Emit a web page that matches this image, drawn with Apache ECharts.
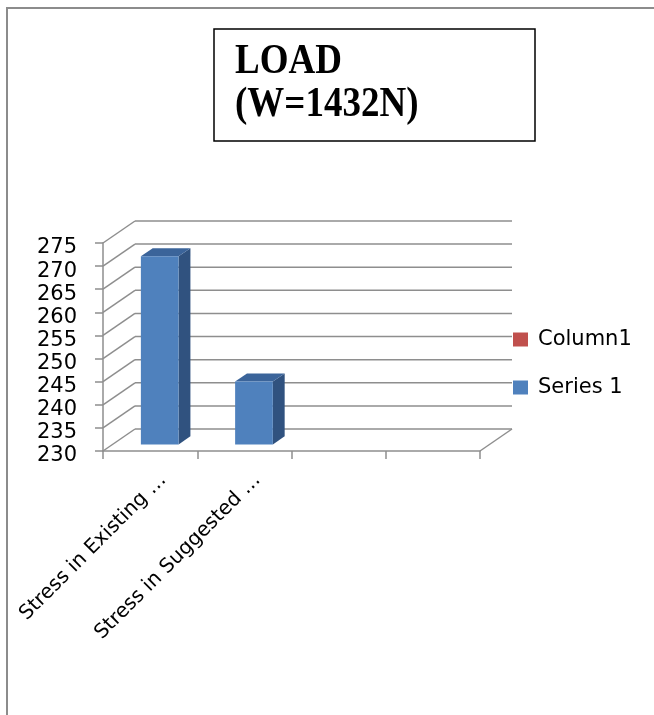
<!DOCTYPE html>
<html>
<head>
<meta charset="utf-8">
<script src="https://cdn.jsdelivr.net/npm/echarts@6/dist/echarts.min.js"></script>
<style>
  html, body { margin: 0; padding: 0; background: #fff; }
  #chart { width: 654px; height: 715px; }
</style>
</head>
<body>
<div id="chart"></div>
<script>
// Chart data
const categories = ['Stress in Existing \u2026', 'Stress in Suggested \u2026', '', ''];
const series1 = [270.7, 243.6];
const column1 = [];
const yTicks = [230, 235, 240, 245, 250, 255, 260, 265, 270, 275];
const titleLines = ['LOAD', '(W=1432N)'];

const Y_MIN = yTicks[0];
const Y_MAX = yTicks[yTicks.length - 1];
const Y_STEP = yTicks[1] - yTicks[0];

// 3D look: depth of the walls in pixels, and where a column sits in that depth
const DX = 32, DY = -22;
const BAR_FRONT = 0.3, BAR_DEPTH = 0.37, BAR_WIDTH = 0.4;
const GRID_COLOR = '#8e8e8e';
const FRONT = '#4F81BD', SIDE = '#30527F', TOP = '#3B649A';
const LABEL_FONT = 'DejaVu Sans';
const LABEL_SIZE = 21;
const CAT_LABEL_SIZE = 20;
const TITLE_FONT = 'bold 37px "Liberation Serif", serif';

const lineStyle = { stroke: GRID_COLOR, lineWidth: 1.5, fill: null };

// Left wall diagonals, back wall lines and the floor edge
function renderWalls(params, api) {
  const v = api.value(1);
  const cs = params.coordSys;
  const y = api.coord([0, v])[1];
  const x0 = cs.x, x1 = cs.x + cs.width;
  const children = [
    { type: 'line', shape: { x1: x0, y1: y, x2: x0 + DX, y2: y + DY }, style: lineStyle },
    { type: 'line', shape: { x1: x0 + DX, y1: y + DY, x2: x1 + DX, y2: y + DY }, style: lineStyle }
  ];
  if (v === Y_MIN) {
    children.push({ type: 'line', shape: { x1: x1, y1: y, x2: x1 + DX, y2: y + DY }, style: lineStyle });
  }
  return { type: 'group', children };
}

// Column drawn as front face, right side and top
function renderColumn(params, api) {
  const idx = api.value(0);
  const v = api.value(1);
  const top = api.coord([idx, v]);
  const base = api.coord([idx, Y_MIN]);
  const bw = api.size([1, 0])[0];
  const w = bw * BAR_WIDTH;
  const xl = top[0] - w / 2 + BAR_FRONT * DX;
  const xr = xl + w;
  const yt = top[1] + BAR_FRONT * DY;
  const yb = base[1] + BAR_FRONT * DY;
  const ddx = BAR_DEPTH * DX, ddy = BAR_DEPTH * DY;
  return {
    type: 'group',
    children: [
      { type: 'polygon', shape: { points: [[xr, yt], [xr + ddx, yt + ddy], [xr + ddx, yb + ddy], [xr, yb]] },
        style: { fill: SIDE } },
      { type: 'polygon', shape: { points: [[xl, yt], [xl + ddx, yt + ddy], [xr + ddx, yt + ddy], [xr, yt]] },
        style: { fill: TOP } },
      { type: 'rect', shape: { x: xl, y: yt, width: w, height: yb - yt },
        style: { fill: FRONT } }
    ]
  };
}

const chart = echarts.init(document.getElementById('chart'), null, { renderer: 'canvas' });

chart.setOption({
  backgroundColor: '#fff',
  animation: false,
  graphic: [
    { type: 'polyline', shape: { points: [[7, 715], [7, 8], [654, 8]] },
      style: { stroke: '#8c8c8c', lineWidth: 2, fill: null }, silent: true },
    // boxed title, set slightly tall
    { type: 'rect', shape: { x: 214, y: 29, width: 321, height: 112 },
      style: { stroke: '#000', lineWidth: 1.5, fill: null }, silent: true },
    { type: 'text', x: 235, y: 62, scaleY: 1.14, silent: true,
      style: { text: titleLines[0], font: TITLE_FONT, fill: '#000', align: 'left', verticalAlign: 'middle' } },
    { type: 'text', x: 235, y: 105, scaleY: 1.14, silent: true,
      style: { text: titleLines[1], font: TITLE_FONT, fill: '#000', align: 'left', verticalAlign: 'middle' } }
  ],
  legend: {
    orient: 'vertical',
    left: 513,
    top: 329,
    padding: 0,
    itemWidth: 15,
    itemHeight: 14,
    itemGap: 27,
    icon: 'rect',
    data: ['Column1', 'Series 1'],
    textStyle: { fontFamily: LABEL_FONT, fontSize: LABEL_SIZE, color: '#000', padding: [0, 0, 0, 5] }
  },
  grid: [
    { left: 103, top: 243, width: 377, height: 208 },
    // label grid: same scales, nudged so labels sit where the 3D view puts them
    { left: 116, top: 248, width: 377, height: 208 }
  ],
  xAxis: [
    {
      type: 'category', gridIndex: 0, data: categories,
      axisLine: { show: true, lineStyle: { color: GRID_COLOR, width: 1.5 } },
      axisTick: { show: true, interval: 0, length: 8, lineStyle: { color: GRID_COLOR, width: 1.5 } },
      axisLabel: { show: false },
      splitLine: { show: false }
    },
    {
      type: 'category', gridIndex: 1, data: categories,
      axisLine: { show: false }, axisTick: { show: false },
      axisLabel: { show: true, rotate: 45, interval: 0, margin: 21,
        fontFamily: LABEL_FONT, fontSize: CAT_LABEL_SIZE, color: '#000' },
      splitLine: { show: false }
    }
  ],
  yAxis: [
    {
      type: 'value', gridIndex: 0, min: Y_MIN, max: Y_MAX, interval: Y_STEP,
      axisLine: { show: true, lineStyle: { color: GRID_COLOR, width: 1.5 } },
      axisTick: { show: true, length: 8, lineStyle: { color: GRID_COLOR, width: 1.5 } },
      axisLabel: { show: false },
      splitLine: { show: false }
    },
    {
      type: 'value', gridIndex: 1, min: Y_MIN, max: Y_MAX, interval: Y_STEP,
      axisLine: { show: false }, axisTick: { show: false },
      axisLabel: { show: true, margin: 39, fontFamily: LABEL_FONT, fontSize: LABEL_SIZE, color: '#000' },
      splitLine: { show: false }
    }
  ],
  series: [
    {
      name: 'walls', type: 'custom', xAxisIndex: 0, yAxisIndex: 0,
      renderItem: renderWalls, silent: true, z: 1,
      data: yTicks.map(v => [0, v])
    },
    {
      name: 'Column1', type: 'bar', xAxisIndex: 0, yAxisIndex: 0,
      itemStyle: { color: '#C0504D' }, data: column1
    },
    {
      name: 'Series 1', type: 'custom', xAxisIndex: 0, yAxisIndex: 0,
      renderItem: renderColumn, z: 3,
      itemStyle: { color: FRONT },
      data: series1.map((v, i) => [i, v])
    }
  ]
});
</script>
</body>
</html>
